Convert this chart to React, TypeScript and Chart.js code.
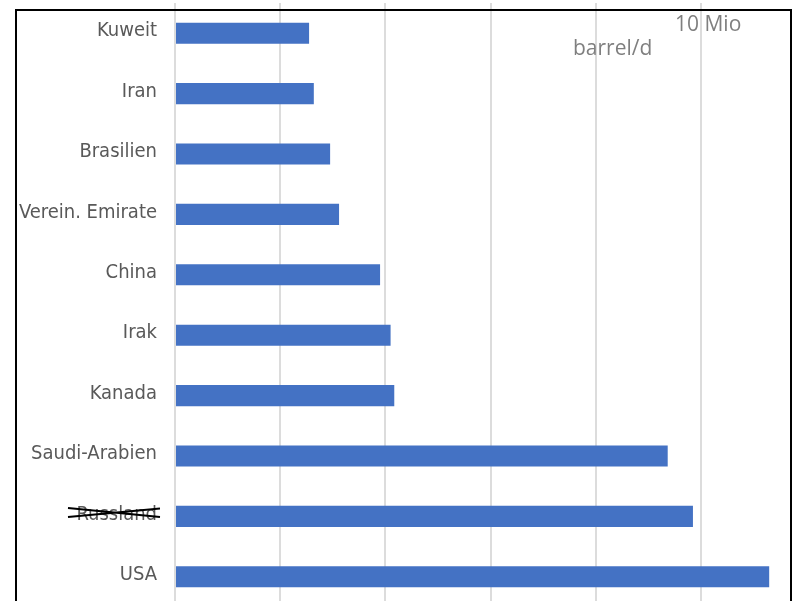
import React, { useEffect, useRef } from "react";
import { Chart, registerables } from "chart.js";

Chart.register(...registerables);

const categories = [
  "Kuweit",
  "Iran",
  "Brasilien",
  "Verein. Emirate",
  "China",
  "Irak",
  "Kanada",
  "Saudi-Arabien",
  "Russland",
  "USA",
];
const production = [2.55, 2.64, 2.95, 3.12, 3.9, 4.1, 4.17, 9.37, 9.85, 11.3];
const struckCategory = "Russland";
const unitLine1 = "10 Mio";
const unitLine2 = "barrel/d";

const LABEL_PAD = 18;
const LABEL_SHIFT = -2;

const overlayPlugin = {
  id: "overlayText",
  afterDraw(chart: any) {
    const { ctx, chartArea } = chart;
    const yScale = chart.scales.y;
    const idx = categories.indexOf(struckCategory);
    ctx.save();
    if (idx >= 0) {
      const cy = yScale.getPixelForValue(idx) - 4;
      const right = chartArea.left - LABEL_PAD + 3;
      const left = right - 92;
      ctx.strokeStyle = "#000000";
      ctx.lineWidth = 2;
      ctx.beginPath();
      ctx.moveTo(left, cy - 4.5);
      ctx.lineTo(right, cy + 4.5);
      ctx.moveTo(left, cy + 4.5);
      ctx.lineTo(right, cy - 4);
      ctx.stroke();
    }
    ctx.fillStyle = "#7f7f7f";
    ctx.font = "21px 'Open Sans', sans-serif";
    ctx.textAlign = "left";
    ctx.textBaseline = "middle";
    ctx.fillText(unitLine1, 675, 25);
    ctx.fillText(unitLine2, 573, 49);
    ctx.restore();
  },
};

export default function App() {
  const ref = useRef<HTMLCanvasElement | null>(null);

  useEffect(() => {
    if (!ref.current) return;
    const chart = new Chart(ref.current, {
      type: "bar",
      data: {
        labels: categories,
        datasets: [
          {
            data: production,
            backgroundColor: "#4472c4",
            borderWidth: 0,
            categoryPercentage: 1,
            barPercentage: 0.35,
          },
        ],
      },
      options: {
        indexAxis: "y",
        responsive: false,
        animation: false,
        devicePixelRatio: 1,
        layout: { padding: { left: 0, top: 3, right: 4, bottom: 13 } },
        plugins: {
          legend: { display: false },
          tooltip: { enabled: false },
          title: { display: false },
        },
        scales: {
          x: {
            min: 0,
            max: 12,
            afterFit: (s: any) => {
              s.height = 0;
              s.paddingLeft = 0;
              s.paddingRight = 0;
              s.paddingTop = 0;
              s.paddingBottom = 0;
            },
            ticks: { display: false, stepSize: 2 },
            grid: { color: "#dcdcdc", lineWidth: 2, drawTicks: false },
            border: { display: false },
          },
          y: {
            afterFit: (s: any) => {
              s.width = 175;
              s.paddingTop = 0;
              s.paddingBottom = 0;
              s.paddingLeft = 0;
              s.paddingRight = 0;
            },
            grid: { display: false, drawTicks: false },
            border: { display: false },
            ticks: {
              padding: LABEL_PAD,
              labelOffset: LABEL_SHIFT,
              color: "#595959",
              font: {
                family: "'DejaVu Sans Condensed', 'DejaVu Sans', sans-serif",
                size: 20,
              },
            },
          },
        },
      },
      plugins: [overlayPlugin],
    });
    return () => chart.destroy();
  }, []);

  return (
    <div
      style={{
        position: "fixed",
        left: 0,
        top: 0,
        width: 796,
        height: 601,
        overflow: "hidden",
        background: "#ffffff",
      }}
    >
      <canvas
        ref={ref}
        width={810}
        height={620}
        style={{ position: "absolute", left: 0, top: 0, width: 810, height: 620 }}
      />
      <div
        style={{
          position: "absolute",
          left: 15,
          top: 9,
          width: 777,
          height: 700,
          boxSizing: "border-box",
          border: "2px solid #000000",
          pointerEvents: "none",
        }}
      />
    </div>
  );
}
